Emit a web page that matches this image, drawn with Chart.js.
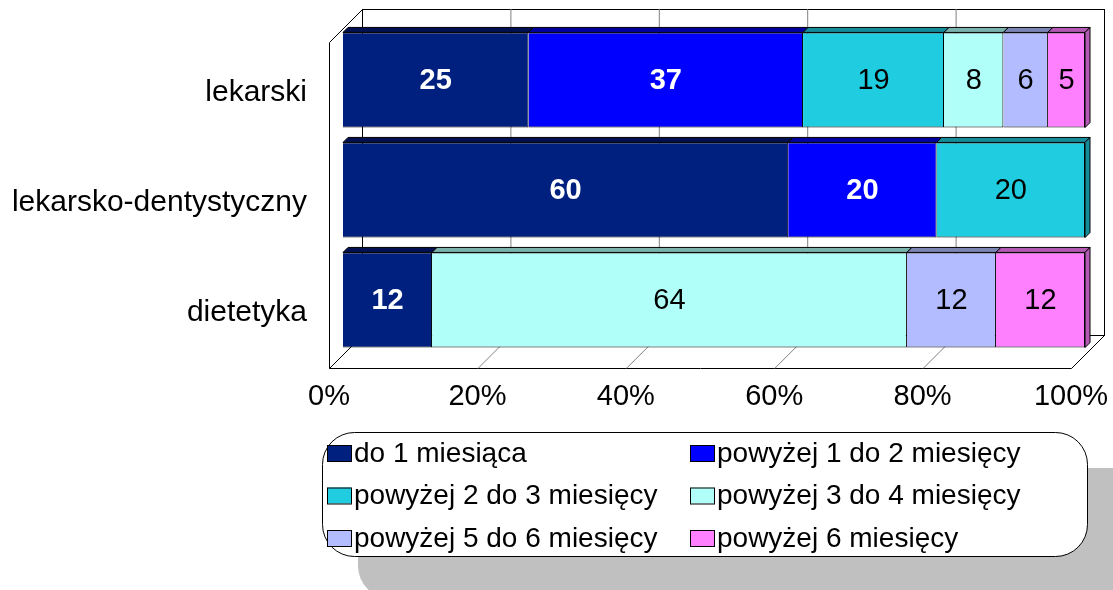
<!DOCTYPE html>
<html>
<head>
<meta charset="utf-8">
<script src="https://cdn.jsdelivr.net/npm/chart.js@4"></script>
<style>
  body { margin: 0; background: #fff; }
  #wrap { width: 1113px; height: 590px; }
</style>
</head>
<body>
<div id="wrap"><canvas id="barChart" width="1113" height="590"></canvas></div>
<script>
const categories = ['lekarski', 'lekarsko-dentystyczny', 'dietetyka'];
const seriesNames = ['do 1 miesiąca', 'powyżej 1 do 2 miesięcy', 'powyżej 2 do 3 miesięcy',
  'powyżej 3 do 4 miesięcy', 'powyżej 5 do 6 miesięcy', 'powyżej 6 miesięcy'];
const do1 = [25, 60, 12];
const od1do2 = [37, 20, 0];
const od2do3 = [19, 20, 0];
const od3do4 = [8, 0, 64];
const od5do6 = [6, 0, 12];
const pow6 = [5, 0, 12];
const tickValues = [0, 20, 40, 60, 80, 100];

const colors = ['#00207f', '#0000ff', '#1fcce0', '#b0fff8', '#b2bcff', '#ff80ff'];
const topColors = ['#001050', '#0000a0', '#158c99', '#7ab3ad', '#7c84b3', '#b359b3'];
const whiteLabel = [true, true, false, false, false, false];
const allSeries = [do1, od1do2, od2do3, od3do4, od5do6, pow6];

const FONT = '"Liberation Sans", Arial, sans-serif';
const D = 5; // bar depth

// walls, floor and grid drawn behind the bars
const walls = {
  id: 'walls',
  beforeDatasetsDraw(chart) {
    const c = chart.ctx, xs = chart.scales.x;
    const front = v => xs.getPixelForValue(v) - 14;
    const back = v => xs.getPixelForValue(v) + 19;
    const topY = 9, floorB = 335, floorF = 368;
    c.save();
    c.lineWidth = 1;
    c.strokeStyle = '#000';
    // back wall
    c.strokeRect(back(0) + 0.5, topY + 0.5, back(100) - back(0), floorB - topY);
    // side wall
    c.beginPath();
    c.moveTo(front(0) + 0.5, floorF + 0.5);
    c.lineTo(front(0) + 0.5, topY + 33.5);
    c.lineTo(back(0) + 0.5, topY + 0.5);
    c.stroke();
    // floor
    c.beginPath();
    c.moveTo(back(0) + 0.5, floorB + 0.5);
    c.lineTo(front(0) + 0.5, floorF + 0.5);
    c.lineTo(front(100) + 0.5, floorF + 0.5);
    c.lineTo(back(100) + 0.5, floorB + 0.5);
    c.stroke();
    // grid lines
    c.strokeStyle = '#808080';
    tickValues.slice(1, -1).forEach(v => {
      c.beginPath();
      c.moveTo(back(v) + 0.5, topY);
      c.lineTo(back(v) + 0.5, floorB + 0.5);
      c.lineTo(front(v) + 0.5, floorF + 0.5);
      c.stroke();
    });
    c.restore();
  },
  afterDatasetsDraw(chart) {
    const c = chart.ctx;
    c.save();
    c.lineWidth = 1;
    c.strokeStyle = '#000';
    categories.forEach((cat, i) => {
      let last = null;
      chart.data.datasets.forEach((ds, di) => {
        const bar = chart.getDatasetMeta(di).data[i];
        if (!ds.data[i]) return;
        const x0 = Math.min(bar.base, bar.x), x1 = Math.max(bar.base, bar.x);
        const y0 = bar.y - bar.height / 2;
        c.fillStyle = topColors[di];
        c.beginPath();
        c.moveTo(x0, y0);
        c.lineTo(x0 + D, y0 - D);
        c.lineTo(x1 + D, y0 - D);
        c.lineTo(x1, y0);
        c.closePath();
        c.fill();
        c.stroke();
        last = { di, x1, y0, y1: bar.y + bar.height / 2 };
      });
      if (last) {
        c.fillStyle = topColors[last.di];
        c.beginPath();
        c.moveTo(last.x1, last.y0);
        c.lineTo(last.x1 + D, last.y0 - D);
        c.lineTo(last.x1 + D, last.y1 - D);
        c.lineTo(last.x1, last.y1);
        c.closePath();
        c.fill();
        c.stroke();
      }
    });
    // value labels
    c.textAlign = 'center';
    c.textBaseline = 'middle';
    chart.data.datasets.forEach((ds, di) => {
      chart.getDatasetMeta(di).data.forEach((bar, i) => {
        if (!ds.data[i]) return;
        c.font = (whiteLabel[di] ? 'bold ' : '') + '29px ' + FONT;
        c.fillStyle = whiteLabel[di] ? '#fff' : '#000';
        c.fillText(ds.data[i], (bar.x + bar.base) / 2, bar.y + 1);
      });
    });
    c.restore();
  }
};

// legend box with shadow
const legendBox = {
  id: 'legendBox',
  beforeDraw(chart) {
    const c = chart.ctx;
    c.save();
    c.fillStyle = '#c0c0c0';
    c.beginPath();
    c.roundRect(358, 468, 800, 130, 32);
    c.fill();
    c.fillStyle = '#fff';
    c.strokeStyle = '#000';
    c.lineWidth = 1;
    c.beginPath();
    c.roundRect(322.5, 432.5, 765, 124, 32);
    c.fill();
    c.stroke();
    c.restore();
  },
  afterDraw(chart) {
    const c = chart.ctx;
    c.save();
    c.font = '28px ' + FONT;
    c.textBaseline = 'middle';
    c.textAlign = 'left';
    seriesNames.forEach((name, i) => {
      const col = i % 2, row = Math.floor(i / 2);
      const sx = col ? 690 : 327;
      const cy = 453 + row * 42.5;
      c.fillStyle = colors[i];
      c.fillRect(sx, cy - 8, 24, 16);
      c.strokeStyle = '#000';
      c.strokeRect(sx + 0.5, cy - 8 + 0.5, 24, 16);
      c.fillStyle = '#000';
      c.fillText(name, sx + 27, cy + 1);
    });
    c.restore();
  }
};

const ctx1 = document.getElementById('barChart');
const barChart = new Chart(ctx1, {
  type: 'bar',
  data: {
    labels: categories,
    datasets: seriesNames.map((name, i) => ({
      label: name,
      data: allSeries[i],
      backgroundColor: colors[i],
      borderColor: '#000',
      borderWidth: 1,
      barPercentage: 0.865,
      categoryPercentage: 1
    }))
  },
  options: {
    indexAxis: 'y',
    responsive: false,
    animation: false,
    layout: { padding: { left: 0, right: 28, top: 25, bottom: 0 } },
    scales: {
      x: {
        stacked: true,
        min: 0,
        max: 100,
        grid: { display: false, drawTicks: false },
        border: { display: false },
        ticks: {
          stepSize: 20,
          padding: 25,
          labelOffset: -14,
          color: '#000',
          font: { family: FONT, size: 29 },
          callback: v => v + '%'
        },
        afterFit: s => {
          s.height = 235;
          s.paddingLeft = 0;
          s.paddingRight = 0;
        }
      },
      y: {
        stacked: true,
        grid: { display: false, drawTicks: false },
        border: { display: false },
        ticks: {
          padding: 36,
          labelOffset: 13,
          color: '#000',
          font: { family: FONT, size: 30 }
        },
        afterFit: s => {
          s.width = 343;
          s.paddingTop = 0;
          s.paddingBottom = 0;
        }
      }
    },
    plugins: {
      legend: { display: false },
      tooltip: { enabled: false }
    }
  },
  plugins: [walls, legendBox]
});
</script>
</body>
</html>
